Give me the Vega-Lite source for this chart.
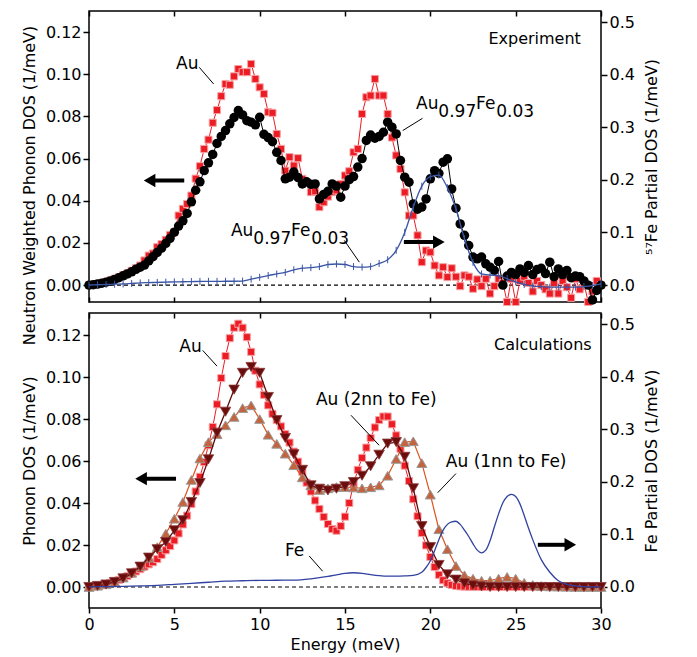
{
"$schema": "https://vega.github.io/schema/vega-lite/v6.json",
"padding": {"left": 20, "top": 9, "right": 5, "bottom": 5},
"spacing": 11,
"bounds": "flush",
"config": {
  "font": "DejaVu Sans",
  "view": {"stroke": "black", "strokeWidth": 1.5},
  "axis": {"labelFontSize": 16, "titleFontSize": 16, "labelColor": "black", "titleColor": "black", "tickColor": "black", "tickWidth": 1.5, "titleFontWeight": "normal", "labelPadding": 2, "grid": false, "domain": false, "labelFlush": false}
},
"datasets": {
"topAu": [
{"E":0,"v":0},{"E":0.25,"v":0.0002},{"E":0.5,"v":0.0005},{"E":0.75,"v":0.001},{"E":1,"v":0.0015},{"E":1.25,"v":0.0022},{"E":1.5,"v":0.003},{"E":1.75,"v":0.0038},{"E":2,"v":0.0047},{"E":2.25,"v":0.0056},{"E":2.5,"v":0.0068},{"E":2.75,"v":0.008},{"E":3,"v":0.0093},{"E":3.25,"v":0.0117},{"E":3.5,"v":0.014},{"E":3.75,"v":0.015},{"E":4,"v":0.018},{"E":4.25,"v":0.0195},{"E":4.5,"v":0.0215},{"E":4.75,"v":0.0238},{"E":5,"v":0.0251},{"E":5.25,"v":0.033},{"E":5.5,"v":0.0362},{"E":5.75,"v":0.0385},{"E":6,"v":0.0425},{"E":6.25,"v":0.0505},{"E":6.5,"v":0.0564},{"E":6.75,"v":0.0646},{"E":7,"v":0.069},{"E":7.25,"v":0.077},{"E":7.5,"v":0.083},{"E":7.75,"v":0.0896},{"E":8,"v":0.0954},{"E":8.25,"v":0.095},{"E":8.5,"v":0.099},{"E":8.75,"v":0.1025},{"E":9,"v":0.101},{"E":9.25,"v":0.101},{"E":9.5,"v":0.1049},{"E":9.75,"v":0.0978},{"E":10,"v":0.0938},{"E":10.25,"v":0.0907},{"E":10.5,"v":0.082},{"E":10.75,"v":0.0817},{"E":11,"v":0.0717},{"E":11.25,"v":0.0646},{"E":11.5,"v":0.0543},{"E":11.75,"v":0.0607},{"E":12,"v":0.0567},{"E":12.25,"v":0.0602},{"E":12.5,"v":0.0504},{"E":12.75,"v":0.0488},{"E":13,"v":0.0441},{"E":13.25,"v":0.0445},{"E":13.5,"v":0.037},{"E":13.75,"v":0.0393},{"E":14,"v":0.042},{"E":14.25,"v":0.0441},{"E":14.5,"v":0.0449},{"E":14.75,"v":0.048},{"E":15,"v":0.052},{"E":15.25,"v":0.054},{"E":15.5,"v":0.063},{"E":15.75,"v":0.0646},{"E":16,"v":0.0812},{"E":16.25,"v":0.0891},{"E":16.5,"v":0.0899},{"E":16.75,"v":0.0978},{"E":17,"v":0.0899},{"E":17.25,"v":0.0899},{"E":17.5,"v":0.0812},{"E":17.75,"v":0.07},{"E":18,"v":0.0615},{"E":18.25,"v":0.0551},{"E":18.5,"v":0.044},{"E":18.75,"v":0.033},{"E":19,"v":0.033},{"E":19.25,"v":0.0236},{"E":19.5,"v":0.0109},{"E":19.75,"v":0.0164},{"E":20,"v":0.0156},{"E":20.25,"v":0.0093},{"E":20.5,"v":0.0046},{"E":20.75,"v":0.0085},{"E":21,"v":0.0038},{"E":21.25,"v":0.008},{"E":21.5,"v":0.004},{"E":21.75,"v":-0.0005},{"E":22,"v":0.0046},{"E":22.25,"v":0.004},{"E":22.5,"v":-0.0017},{"E":22.75,"v":0.0027},{"E":23,"v":-0.0005},{"E":23.25,"v":0.003},{"E":23.5,"v":-0.004},{"E":23.75,"v":-0.0005},{"E":24,"v":0.003},{"E":24.25,"v":0.001},{"E":24.5,"v":-0.008},{"E":24.75,"v":0.003},{"E":25,"v":-0.008},{"E":25.25,"v":0.002},{"E":25.5,"v":0.004},{"E":25.75,"v":0.001},{"E":26,"v":-0.003},{"E":26.25,"v":0.002},{"E":26.5,"v":0},{"E":26.75,"v":-0.002},{"E":27,"v":-0.004},{"E":27.25,"v":0.001},{"E":27.5,"v":-0.004},{"E":27.75,"v":0.002},{"E":28,"v":-0.001},{"E":28.25,"v":-0.006},{"E":28.5,"v":0.003},{"E":28.75,"v":-0.002},{"E":29,"v":0.001},{"E":29.25,"v":-0.008},{"E":29.5,"v":-0.003},{"E":29.75,"v":0.002},{"E":30,"v":0}
],
"topAlloy": [
{"E":0,"v":0},{"E":0.25,"v":0.0002},{"E":0.5,"v":0.0005},{"E":0.75,"v":0.0009},{"E":1,"v":0.0014},{"E":1.25,"v":0.002},{"E":1.5,"v":0.0027},{"E":1.75,"v":0.0035},{"E":2,"v":0.0044},{"E":2.25,"v":0.0053},{"E":2.5,"v":0.0063},{"E":2.75,"v":0.0075},{"E":3,"v":0.0085},{"E":3.25,"v":0.0095},{"E":3.5,"v":0.0115},{"E":3.75,"v":0.0135},{"E":4,"v":0.0155},{"E":4.25,"v":0.0175},{"E":4.5,"v":0.0198},{"E":4.75,"v":0.0222},{"E":5,"v":0.0251},{"E":5.25,"v":0.028},{"E":5.5,"v":0.0305},{"E":5.75,"v":0.034},{"E":6,"v":0.0395},{"E":6.25,"v":0.045},{"E":6.5,"v":0.049},{"E":6.75,"v":0.0543},{"E":7,"v":0.058},{"E":7.25,"v":0.062},{"E":7.5,"v":0.0672},{"E":7.75,"v":0.0705},{"E":8,"v":0.0733},{"E":8.25,"v":0.0765},{"E":8.5,"v":0.0795},{"E":8.75,"v":0.0828},{"E":9,"v":0.0807},{"E":9.25,"v":0.078},{"E":9.5,"v":0.0773},{"E":9.75,"v":0.076},{"E":10,"v":0.0796},{"E":10.25,"v":0.0715},{"E":10.5,"v":0.07},{"E":10.75,"v":0.068},{"E":11,"v":0.063},{"E":11.25,"v":0.0591},{"E":11.5,"v":0.0504},{"E":11.75,"v":0.0512},{"E":12,"v":0.0536},{"E":12.25,"v":0.051},{"E":12.5,"v":0.048},{"E":12.75,"v":0.049},{"E":13,"v":0.0478},{"E":13.25,"v":0.048},{"E":13.5,"v":0.0409},{"E":13.75,"v":0.043},{"E":14,"v":0.0445},{"E":14.25,"v":0.048},{"E":14.5,"v":0.047},{"E":14.75,"v":0.0417},{"E":15,"v":0.047},{"E":15.25,"v":0.05},{"E":15.5,"v":0.0515},{"E":15.75,"v":0.056},{"E":16,"v":0.06},{"E":16.25,"v":0.0686},{"E":16.5,"v":0.0712},{"E":16.75,"v":0.0697},{"E":17,"v":0.0705},{"E":17.25,"v":0.0725},{"E":17.5,"v":0.0773},{"E":17.75,"v":0.0749},{"E":18,"v":0.0717},{"E":18.25,"v":0.0591},{"E":18.5,"v":0.0512},{"E":18.75,"v":0.0488},{"E":19,"v":0.0385},{"E":19.25,"v":0.036},{"E":19.5,"v":0.037},{"E":19.75,"v":0.0409},{"E":20,"v":0.0504},{"E":20.25,"v":0.0543},{"E":20.5,"v":0.053},{"E":20.75,"v":0.0583},{"E":21,"v":0.0599},{"E":21.25,"v":0.0456},{"E":21.5,"v":0.0365},{"E":21.75,"v":0.029},{"E":22,"v":0.0236},{"E":22.25,"v":0.0188},{"E":22.5,"v":0.0133},{"E":22.75,"v":0.0125},{"E":23,"v":0.0133},{"E":23.25,"v":0.0101},{"E":23.5,"v":0.0085},{"E":23.75,"v":0.007},{"E":24,"v":0.0112},{"E":24.25,"v":0},{"E":24.5,"v":0.0043},{"E":24.75,"v":0.006},{"E":25,"v":0.005},{"E":25.25,"v":0.0077},{"E":25.5,"v":0.006},{"E":25.75,"v":0.0093},{"E":26,"v":0.005},{"E":26.25,"v":0.0074},{"E":26.5,"v":0.008},{"E":26.75,"v":0.0055},{"E":27,"v":0.0109},{"E":27.25,"v":0.004},{"E":27.5,"v":0.0077},{"E":27.75,"v":0.005},{"E":28,"v":0.007},{"E":28.25,"v":0.0035},{"E":28.5,"v":0.0043},{"E":28.75,"v":0.004},{"E":29,"v":0.002},{"E":29.25,"v":0},{"E":29.5,"v":-0.007},{"E":29.75,"v":-0.0025},{"E":30,"v":0}
],
"topFe": [
{"E":0,"r":0},{"E":0.5,"r":0.0005},{"E":1,"r":0.001},{"E":1.5,"r":0.0015},{"E":2,"r":0.002},{"E":2.5,"r":0.003},{"E":3,"r":0.004},{"E":3.5,"r":0.0045},{"E":4,"r":0.005},{"E":4.5,"r":0.0055},{"E":5,"r":0.006},{"E":5.5,"r":0.0062},{"E":6,"r":0.0065},{"E":6.5,"r":0.0068},{"E":7,"r":0.007},{"E":7.5,"r":0.007},{"E":8,"r":0.0072},{"E":8.5,"r":0.0072},{"E":9,"r":0.0075},{"E":9.5,"r":0.011},{"E":10,"r":0.0146},{"E":10.5,"r":0.018},{"E":11,"r":0.021},{"E":11.5,"r":0.024},{"E":12,"r":0.029},{"E":12.5,"r":0.032},{"E":13,"r":0.033},{"E":13.5,"r":0.035},{"E":14,"r":0.039},{"E":14.5,"r":0.04},{"E":15,"r":0.039},{"E":15.5,"r":0.035},{"E":16,"r":0.034},{"E":16.5,"r":0.035},{"E":17,"r":0.041},{"E":17.5,"r":0.048},{"E":18,"r":0.066},{"E":18.5,"r":0.1},{"E":19,"r":0.148},{"E":19.5,"r":0.188},{"E":20,"r":0.206},{"E":20.5,"r":0.209},{"E":21,"r":0.185},{"E":21.5,"r":0.145},{"E":22,"r":0.088},{"E":22.5,"r":0.043},{"E":23,"r":0.021},{"E":23.5,"r":0.019},{"E":24,"r":0.018},{"E":24.5,"r":0.012},{"E":25,"r":0.006},{"E":25.5,"r":0.001},{"E":26,"r":-0.002},{"E":26.5,"r":-0.003},{"E":27,"r":-0.004},{"E":27.5,"r":-0.004},{"E":28,"r":-0.004},{"E":28.5,"r":-0.004},{"E":29,"r":-0.003},{"E":29.5,"r":-0.001},{"E":30,"r":0.002}
],
"calAu": [
{"E":0,"v":0},{"E":0.25,"v":0.0002},{"E":0.5,"v":0.0005},{"E":0.75,"v":0.0009},{"E":1,"v":0.0014},{"E":1.25,"v":0.002},{"E":1.5,"v":0.0027},{"E":1.75,"v":0.0034},{"E":2,"v":0.0042},{"E":2.25,"v":0.0052},{"E":2.5,"v":0.0063},{"E":2.75,"v":0.0074},{"E":3,"v":0.0085},{"E":3.25,"v":0.0097},{"E":3.5,"v":0.0108},{"E":3.75,"v":0.0118},{"E":4,"v":0.0133},{"E":4.25,"v":0.0153},{"E":4.5,"v":0.0175},{"E":4.75,"v":0.0195},{"E":5,"v":0.0222},{"E":5.25,"v":0.0255},{"E":5.5,"v":0.0298},{"E":5.75,"v":0.034},{"E":6,"v":0.0395},{"E":6.25,"v":0.0455},{"E":6.5,"v":0.0525},{"E":6.75,"v":0.0595},{"E":7,"v":0.0675},{"E":7.25,"v":0.0762},{"E":7.5,"v":0.087},{"E":7.75,"v":0.0995},{"E":8,"v":0.11},{"E":8.25,"v":0.1185},{"E":8.5,"v":0.1235},{"E":8.75,"v":0.1254},{"E":9,"v":0.1235},{"E":9.25,"v":0.119},{"E":9.5,"v":0.112},{"E":9.75,"v":0.103},{"E":10,"v":0.0965},{"E":10.25,"v":0.0915},{"E":10.5,"v":0.0865},{"E":10.75,"v":0.0825},{"E":11,"v":0.0795},{"E":11.25,"v":0.0765},{"E":11.5,"v":0.0728},{"E":11.75,"v":0.0688},{"E":12,"v":0.0645},{"E":12.25,"v":0.0597},{"E":12.5,"v":0.0548},{"E":12.75,"v":0.0497},{"E":13,"v":0.0455},{"E":13.25,"v":0.0412},{"E":13.5,"v":0.0372},{"E":13.75,"v":0.0334},{"E":14,"v":0.03},{"E":14.25,"v":0.0276},{"E":14.5,"v":0.0268},{"E":14.75,"v":0.029},{"E":15,"v":0.0335},{"E":15.25,"v":0.04},{"E":15.5,"v":0.049},{"E":15.75,"v":0.0558},{"E":16,"v":0.0615},{"E":16.25,"v":0.0664},{"E":16.5,"v":0.071},{"E":16.75,"v":0.076},{"E":17,"v":0.0795},{"E":17.25,"v":0.0812},{"E":17.5,"v":0.0812},{"E":17.75,"v":0.0775},{"E":18,"v":0.0722},{"E":18.25,"v":0.0658},{"E":18.5,"v":0.0578},{"E":18.75,"v":0.0505},{"E":19,"v":0.0418},{"E":19.25,"v":0.0337},{"E":19.5,"v":0.0257},{"E":19.75,"v":0.0198},{"E":20,"v":0.0143},{"E":20.25,"v":0.0095},{"E":20.5,"v":0.0058},{"E":20.75,"v":0.0032},{"E":21,"v":0.0018},{"E":21.25,"v":0.001},{"E":21.5,"v":0.0005},{"E":21.75,"v":0.0003},{"E":22,"v":0.0002},{"E":22.25,"v":0.0001},{"E":22.5,"v":0.0001},{"E":22.75,"v":0},{"E":23,"v":0},{"E":23.25,"v":0},{"E":23.5,"v":0},{"E":23.75,"v":0},{"E":24,"v":0},{"E":24.25,"v":0},{"E":24.5,"v":0},{"E":24.75,"v":0},{"E":25,"v":0},{"E":25.25,"v":0},{"E":25.5,"v":0},{"E":25.75,"v":0},{"E":26,"v":0},{"E":26.25,"v":0},{"E":26.5,"v":0},{"E":26.75,"v":0},{"E":27,"v":0},{"E":27.25,"v":0},{"E":27.5,"v":0},{"E":27.75,"v":0},{"E":28,"v":0},{"E":28.25,"v":0},{"E":28.5,"v":0},{"E":28.75,"v":0},{"E":29,"v":0},{"E":29.25,"v":0},{"E":29.5,"v":0},{"E":29.75,"v":0},{"E":30,"v":0}
],
"cal2nn": [
{"E":0,"v":0},{"E":0.5,"v":0.0005},{"E":1,"v":0.0012},{"E":1.5,"v":0.0024},{"E":2,"v":0.0041},{"E":2.5,"v":0.0065},{"E":3,"v":0.0097},{"E":3.5,"v":0.014},{"E":4,"v":0.018},{"E":4.5,"v":0.0214},{"E":5,"v":0.027},{"E":5.5,"v":0.0318},{"E":6,"v":0.0405},{"E":6.5,"v":0.0495},{"E":7,"v":0.0608},{"E":7.5,"v":0.0735},{"E":8,"v":0.0835},{"E":8.5,"v":0.094},{"E":9,"v":0.102},{"E":9.5,"v":0.1048},{"E":10,"v":0.102},{"E":10.5,"v":0.0905},{"E":11,"v":0.0795},{"E":11.5,"v":0.071},{"E":12,"v":0.0632},{"E":12.5,"v":0.0558},{"E":13,"v":0.0484},{"E":13.5,"v":0.0468},{"E":14,"v":0.046},{"E":14.5,"v":0.0468},{"E":15,"v":0.048},{"E":15.5,"v":0.05},{"E":16,"v":0.053},{"E":16.5,"v":0.0575},{"E":17,"v":0.063},{"E":17.5,"v":0.0683},{"E":18,"v":0.069},{"E":18.5,"v":0.062},{"E":19,"v":0.047},{"E":19.5,"v":0.029},{"E":20,"v":0.019},{"E":20.5,"v":0.0105},{"E":21,"v":0.006},{"E":21.5,"v":0.0035},{"E":22,"v":0.0018},{"E":22.5,"v":0.0008},{"E":23,"v":0.0003},{"E":23.5,"v":0},{"E":24,"v":0},{"E":24.5,"v":0},{"E":25,"v":0},{"E":25.5,"v":0},{"E":26,"v":0},{"E":26.5,"v":0},{"E":27,"v":0},{"E":27.5,"v":0},{"E":28,"v":0},{"E":28.5,"v":0},{"E":29,"v":0},{"E":29.5,"v":0},{"E":30,"v":0}
],
"cal1nn": [
{"E":0,"v":0},{"E":0.5,"v":0.0006},{"E":1,"v":0.0013},{"E":1.5,"v":0.0025},{"E":2,"v":0.0045},{"E":2.5,"v":0.0068},{"E":3,"v":0.0098},{"E":3.5,"v":0.014},{"E":4,"v":0.019},{"E":4.5,"v":0.0254},{"E":5,"v":0.0325},{"E":5.5,"v":0.0405},{"E":6,"v":0.051},{"E":6.5,"v":0.0612},{"E":7,"v":0.069},{"E":7.5,"v":0.0728},{"E":8,"v":0.077},{"E":8.5,"v":0.081},{"E":9,"v":0.0852},{"E":9.5,"v":0.0865},{"E":10,"v":0.08},{"E":10.5,"v":0.0725},{"E":11,"v":0.0682},{"E":11.5,"v":0.0635},{"E":12,"v":0.058},{"E":12.5,"v":0.0522},{"E":13,"v":0.0484},{"E":13.5,"v":0.0462},{"E":14,"v":0.047},{"E":14.5,"v":0.0476},{"E":15,"v":0.0476},{"E":15.5,"v":0.0474},{"E":16,"v":0.047},{"E":16.5,"v":0.0475},{"E":17,"v":0.0484},{"E":17.5,"v":0.053},{"E":18,"v":0.061},{"E":18.5,"v":0.069},{"E":19,"v":0.0694},{"E":19.5,"v":0.059},{"E":20,"v":0.044},{"E":20.5,"v":0.0275},{"E":21,"v":0.018},{"E":21.5,"v":0.01},{"E":22,"v":0.0056},{"E":22.5,"v":0.004},{"E":23,"v":0.003},{"E":23.5,"v":0.003},{"E":24,"v":0.004},{"E":24.5,"v":0.0048},{"E":25,"v":0.004},{"E":25.5,"v":0.002},{"E":26,"v":0.001},{"E":26.5,"v":0.0005},{"E":27,"v":0.0003},{"E":27.5,"v":0.0002},{"E":28,"v":0.0001},{"E":28.5,"v":0},{"E":29,"v":0},{"E":29.5,"v":0},{"E":30,"v":0}
],
"calFe": [
{"E":0,"r":0},{"E":1,"r":0.0005},{"E":2,"r":0.0012},{"E":3,"r":0.002},{"E":4,"r":0.003},{"E":5,"r":0.005},{"E":6,"r":0.007},{"E":7,"r":0.009},{"E":8,"r":0.011},{"E":9,"r":0.0118},{"E":10,"r":0.0125},{"E":11,"r":0.0128},{"E":12,"r":0.013},{"E":13,"r":0.0155},{"E":14,"r":0.02},{"E":14.5,"r":0.023},{"E":15,"r":0.026},{"E":15.5,"r":0.027},{"E":16,"r":0.026},{"E":16.5,"r":0.0235},{"E":17,"r":0.0215},{"E":17.5,"r":0.0205},{"E":18,"r":0.0205},{"E":18.5,"r":0.021},{"E":19,"r":0.022},{"E":19.5,"r":0.028},{"E":19.75,"r":0.037},{"E":20,"r":0.05},{"E":20.25,"r":0.069},{"E":20.5,"r":0.09},{"E":20.75,"r":0.108},{"E":21,"r":0.119},{"E":21.25,"r":0.124},{"E":21.5,"r":0.125},{"E":21.75,"r":0.119},{"E":22,"r":0.108},{"E":22.25,"r":0.096},{"E":22.5,"r":0.082},{"E":22.75,"r":0.07},{"E":23,"r":0.065},{"E":23.25,"r":0.07},{"E":23.5,"r":0.088},{"E":23.75,"r":0.114},{"E":24,"r":0.139},{"E":24.25,"r":0.16},{"E":24.5,"r":0.172},{"E":24.75,"r":0.176},{"E":25,"r":0.172},{"E":25.25,"r":0.158},{"E":25.5,"r":0.136},{"E":25.75,"r":0.112},{"E":26,"r":0.09},{"E":26.5,"r":0.052},{"E":27,"r":0.028},{"E":27.5,"r":0.012},{"E":28,"r":0.005},{"E":28.5,"r":0.002},{"E":29,"r":0.0005},{"E":30,"r":0}
],
"zero": [{"E":0,"E2":30,"v":0}],
"topLabels": [
{"E":5.1,"v":0.1049,"t":"Au"},
{"E":8.32,"v":0.0259,"t":"Au"},{"E":9.63,"v":0.0221,"t":"0.97"},{"E":11.84,"v":0.0259,"t":"Fe"},{"E":13.02,"v":0.0221,"t":"0.03"},
{"E":19.16,"v":0.0859,"t":"Au"},{"E":20.47,"v":0.0821,"t":"0.97"},{"E":22.68,"v":0.0859,"t":"Fe"},{"E":23.86,"v":0.0821,"t":"0.03"}
],
"topRight": [{"E":28.82,"v":0.1167,"t":"Experiment"}],
"topLeaders": [
{"E":6.46,"v":0.1033,"E2":7.3,"v2":0.0954},
{"E":18.38,"v":0.0733,"E2":19.54,"v2":0.0791},
{"E":14.96,"v":0.0212,"E2":15.84,"v2":0.0109}
],
"topShafts": [{"E":3.7,"E2":5.58,"v":0.0496},{"E":18.45,"E2":20.3,"v":0.0204}],
"topHeads": [{"E":3.55,"v":0.0496,"s":"triangle-left"},{"E":20.5,"v":0.0204,"s":"triangle-right"}],
"botLabels": [
{"E":5.29,"v":0.1143,"t":"Au"},
{"E":13.3,"v":0.089,"t":"Au (2nn to Fe)"},
{"E":20.91,"v":0.0595,"t":"Au (1nn to Fe)"},
{"E":11.48,"v":0.017,"t":"Fe"}
],
"botRight": [{"E":29.45,"v":0.1154,"t":"Calculations"}],
"botLeaders": [
{"E":6.66,"v":0.1127,"E2":7.5,"v2":0.1052},
{"E":15.35,"v":0.0818,"E2":17.0,"v2":0.0675},
{"E":21.5,"v":0.054,"E2":20.43,"v2":0.0449},
{"E":12.9,"v":0.0148,"E2":13.69,"v2":0.0075}
],
"botShafts": [{"E":3.2,"E2":5.1,"v":0.0516},{"E":26.3,"E2":28.0,"v":0.0201}],
"botHeads": [{"E":3.05,"v":0.0516,"s":"triangle-left"},{"E":28.2,"v":0.0201,"s":"triangle-right"}]
},
"vconcat": [
{
 "width": 512, "height": 291,
 "layer": [
  {
   "encoding": {
    "x": {"field": "E", "type": "quantitative", "scale": {"domain": [0, 30], "nice": false, "zero": false},
          "axis": {"orient": "bottom", "values": [0,5,10,15,20,25,30], "labels": false, "tickSize": -5, "title": null}},
    "y": {"field": "v", "type": "quantitative", "scale": {"domain": [-0.008, 0.13], "nice": false, "zero": false},
          "axis": {"orient": "left", "values": [0,0.02,0.04,0.06,0.08,0.1,0.12], "format": ".2f", "tickSize": 6, "title": "Neutron Weighted Phonon DOS (1/meV)", "titleY": 174, "titlePadding": 8}}
   },
   "layer": [
    {"data": {"name": "zero"}, "mark": {"type": "rule", "color": "black", "strokeWidth": 1.2, "strokeDash": [4, 3]}, "encoding": {"x2": {"field": "E2"}}},
    {"data": {"name": "topAu"}, "mark": {"type": "line", "color": "#ec1c24", "strokeWidth": 1}},
    {"data": {"name": "topAu"}, "mark": {"type": "point", "shape": "square", "filled": true, "fill": "#ec1c24", "stroke": "#f6a3a5", "strokeWidth": 1, "size": 50, "opacity": 1}},
    {"data": {"name": "topAlloy"}, "mark": {"type": "line", "color": "black", "strokeWidth": 1}},
    {"data": {"name": "topAlloy"}, "mark": {"type": "point", "shape": "circle", "filled": true, "fill": "black", "size": 90, "opacity": 1}},
    {"data": {"name": "topLabels"}, "mark": {"type": "text", "align": "left", "fontSize": 17, "color": "black"}, "encoding": {"text": {"field": "t"}}},
    {"data": {"name": "topRight"}, "mark": {"type": "text", "align": "right", "fontSize": 16, "color": "black"}, "encoding": {"text": {"field": "t"}}},
    {"data": {"name": "topLeaders"}, "mark": {"type": "rule", "color": "black", "strokeWidth": 1}, "encoding": {"x2": {"field": "E2"}, "y2": {"field": "v2"}}},
    {"data": {"name": "topShafts"}, "mark": {"type": "rule", "color": "black", "strokeWidth": 4}, "encoding": {"x2": {"field": "E2"}}},
    {"data": {"name": "topHeads"}, "mark": {"type": "point", "filled": true, "fill": "black", "size": 180, "opacity": 1}, "encoding": {"shape": {"field": "s", "type": "nominal", "scale": null}}}
   ]
  },
  {
   "encoding": {
    "x": {"field": "E", "type": "quantitative", "scale": {"domain": [0, 30], "nice": false, "zero": false},
          "axis": {"orient": "top", "values": [0,5,10,15,20,25,30], "labels": false, "tickSize": -5, "title": null}},
    "y": {"field": "r", "type": "quantitative", "scale": {"domain": [-0.0323, 0.521], "nice": false, "zero": false},
          "axis": {"orient": "right", "values": [0,0.1,0.2,0.3,0.4,0.5], "format": ".1f", "tickSize": 6, "title": "⁵⁷Fe Partial  DOS (1/meV)", "titleAngle": 270, "titleBaseline": "top", "titlePadding": 9}}
   },
   "layer": [
    {"data": {"name": "topFe"}, "mark": {"type": "line", "color": "#3a55a5", "strokeWidth": 1.3, "interpolate": "monotone"}},
    {"data": {"name": "topFe"}, "mark": {"type": "point", "shape": "M0,-1L0,1", "filled": false, "stroke": "#3a55a5", "strokeWidth": 1, "size": 49, "opacity": 1}}
   ]
  }
 ],
 "resolve": {"scale": {"y": "independent"}, "axis": {"x": "independent", "y": "independent"}}
},
{
 "width": 512, "height": 295,
 "layer": [
  {
   "encoding": {
    "x": {"field": "E", "type": "quantitative", "scale": {"domain": [0, 30], "nice": false, "zero": false},
          "axis": {"orient": "bottom", "values": [0,5,10,15,20,25,30], "tickSize": 5, "labelPadding": 3, "title": "Energy (meV)", "titlePadding": 4}},
    "y": {"field": "v", "type": "quantitative", "scale": {"domain": [-0.01, 0.1305], "nice": false, "zero": false},
          "axis": {"orient": "left", "values": [0,0.02,0.04,0.06,0.08,0.1,0.12], "format": ".2f", "tickSize": 6, "title": "Phonon DOS (1/meV)", "titlePadding": 8}}
   },
   "layer": [
    {"data": {"name": "zero"}, "mark": {"type": "rule", "color": "black", "strokeWidth": 1.2, "strokeDash": [4, 3]}, "encoding": {"x2": {"field": "E2"}}},
    {"data": {"name": "calAu"}, "mark": {"type": "line", "color": "#ec1c24", "strokeWidth": 1}},
    {"data": {"name": "calAu"}, "mark": {"type": "point", "shape": "square", "filled": true, "fill": "#ec1c24", "stroke": "#f6a3a5", "strokeWidth": 1, "size": 50, "opacity": 1}},
    {"data": {"name": "cal1nn"}, "mark": {"type": "line", "color": "#d9531e", "strokeWidth": 1.2}},
    {"data": {"name": "cal1nn"}, "mark": {"type": "point", "shape": "triangle-up", "filled": true, "fill": "#c4643e", "stroke": "#9a9a9a", "strokeWidth": 1, "size": 100, "opacity": 1}},
    {"data": {"name": "cal2nn"}, "mark": {"type": "line", "color": "#5e0a0a", "strokeWidth": 1.3}},
    {"data": {"name": "cal2nn"}, "mark": {"type": "point", "shape": "triangle-down", "filled": true, "fill": "#6b0d0d", "stroke": "#8a3a3a", "strokeWidth": 0.8, "size": 110, "opacity": 1}},
    {"data": {"name": "botLabels"}, "mark": {"type": "text", "align": "left", "fontSize": 17, "color": "black"}, "encoding": {"text": {"field": "t"}}},
    {"data": {"name": "botRight"}, "mark": {"type": "text", "align": "right", "fontSize": 16, "color": "black"}, "encoding": {"text": {"field": "t"}}},
    {"data": {"name": "botLeaders"}, "mark": {"type": "rule", "color": "black", "strokeWidth": 1}, "encoding": {"x2": {"field": "E2"}, "y2": {"field": "v2"}}},
    {"data": {"name": "botShafts"}, "mark": {"type": "rule", "color": "black", "strokeWidth": 4}, "encoding": {"x2": {"field": "E2"}}},
    {"data": {"name": "botHeads"}, "mark": {"type": "point", "filled": true, "fill": "black", "size": 180, "opacity": 1}, "encoding": {"shape": {"field": "s", "type": "nominal", "scale": null}}}
   ]
  },
  {
   "encoding": {
    "x": {"field": "E", "type": "quantitative", "scale": {"domain": [0, 30], "nice": false, "zero": false},
          "axis": {"orient": "top", "values": [0,5,10,15,20,25,30], "labels": false, "tickSize": -5, "title": null}},
    "y": {"field": "r", "type": "quantitative", "scale": {"domain": [-0.04, 0.521], "nice": false, "zero": false},
          "axis": {"orient": "right", "values": [0,0.1,0.2,0.3,0.4,0.5], "format": ".1f", "tickSize": 6, "title": "Fe Partial  DOS (1/meV)", "titleAngle": 270, "titleBaseline": "top", "titlePadding": 9}}
   },
   "layer": [
    {"data": {"name": "calFe"}, "mark": {"type": "line", "color": "#3142a0", "strokeWidth": 1.3, "interpolate": "monotone"}}
   ]
  }
 ],
 "resolve": {"scale": {"y": "independent"}, "axis": {"x": "independent", "y": "independent"}}
}
]
}
